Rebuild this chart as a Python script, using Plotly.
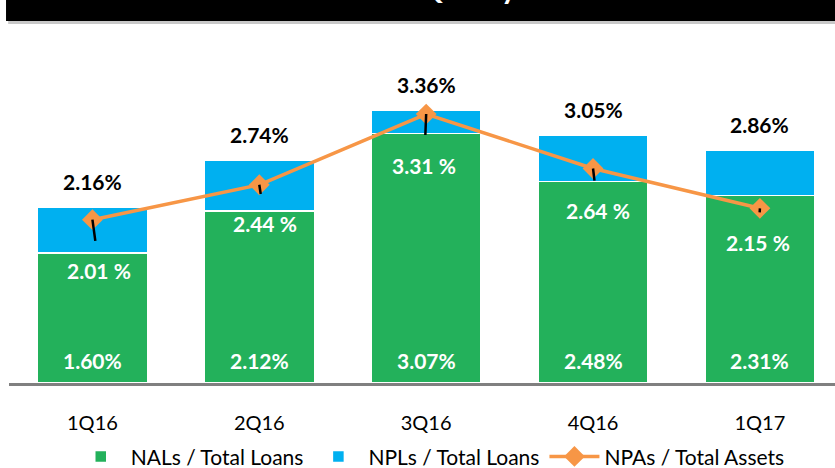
import plotly.graph_objects as go

quarters = ['1Q16', '2Q16', '3Q16', '4Q16', '1Q17']
nals_total_loans = [1.60, 2.12, 3.07, 2.48, 2.31]
npls_total_loans = [2.16, 2.74, 3.36, 3.05, 2.86]
npas_total_assets = [2.01, 2.44, 3.31, 2.64, 2.15]

green = '#23B15B'
blue = '#00B0F0'
orange = '#F79646'
font = 'Lato'

# blue segment sits on top of the green one, up to the NPL total
npl_part = [round(t - n, 2) for t, n in zip(npls_total_loans, nals_total_loans)]

fig = go.Figure()
fig.add_trace(go.Bar(
    x=quarters, y=nals_total_loans, name='NALs / Total Loans',
    marker=dict(color=green, line=dict(color='white', width=1.5)),
    hoverinfo='skip'
))
fig.add_trace(go.Bar(
    x=quarters, y=npl_part, name='NPLs / Total Loans',
    marker=dict(color=blue, line=dict(color='white', width=1.5)),
    hoverinfo='skip'
))
fig.add_trace(go.Scatter(
    x=quarters, y=npas_total_assets, name='NPAs / Total Assets',
    mode='lines+markers',
    line=dict(color=orange, width=3.5),
    marker=dict(symbol='diamond', size=16, color=orange)
))

# totals above bars
for q, v in zip(quarters, npls_total_loans):
    fig.add_annotation(x=q, y=v, text=f'<b>{v:.2f}%</b>', showarrow=False,
                       yshift=26, font=dict(size=21, color='black', family=font))

# NAL values at the bottom of the bars
for q, v in zip(quarters, nals_total_loans):
    fig.add_annotation(x=q, y=0, text=f'<b>{v:.2f}%</b>', showarrow=False,
                       yshift=23, font=dict(size=21, color='white', family=font))

# NPA labels with leader lines
leader_dx = [7, 6, -2, 5, -2]
leader_dy = [51, 39, 51, 42, 34]
for q, v, dx, dy in zip(quarters, npas_total_assets, leader_dx, leader_dy):
    fig.add_annotation(x=q, y=v, text=f'<b>{v:.2f} %</b>', showarrow=True,
                       ax=dx, ay=dy, arrowhead=0, arrowwidth=2.5, arrowcolor='black',
                       startstandoff=16,
                       font=dict(size=21, color='white', family=font))

# black header band (clipped at the top of the page)
fig.add_shape(type='rect', xref='paper', yref='paper', x0=-0.001, x1=1.01,
              y0=1 + 34 / 325, y1=1 + 38 / 325,
              fillcolor='#C8C8C8', line=dict(width=0), layer='below')
fig.add_shape(type='rect', xref='paper', yref='paper', x0=-0.0036, x1=1.01,
              y0=1 + 37 / 325, y1=1 + 70 / 325,
              fillcolor='black', line=dict(width=0))
fig.add_annotation(xref='paper', yref='paper', x=0.505, y=1 + 71 / 325,
                   yanchor='middle', text='<b>Asset Quality</b>', showarrow=False,
                   font=dict(size=30, color='white', family=font))

fig.update_layout(
    width=835, height=468,
    margin=dict(l=9, r=0, t=58, b=85, autoexpand=False),
    barmode='stack', bargap=0.34,
    plot_bgcolor='white', paper_bgcolor='white',
    font=dict(family=font, size=16, color='black'),
    showlegend=True,
    legend=dict(orientation='h', x=0.51, xanchor='center',
                yref='container', y=0.024, yanchor='middle',
                traceorder='normal', font=dict(size=21), itemwidth=50),
    xaxis=dict(range=[-0.5, 4.45], showline=True, linecolor='#808080', linewidth=3,
               ticks='', tickfont=dict(size=20), ticklabelstandoff=20, showgrid=False),
    yaxis=dict(range=[0, 4.0], visible=False, showgrid=False),
)

fig.write_html('out.html', config={'displayModeBar': False},
               post_script="document.body.style.margin='0px';")
